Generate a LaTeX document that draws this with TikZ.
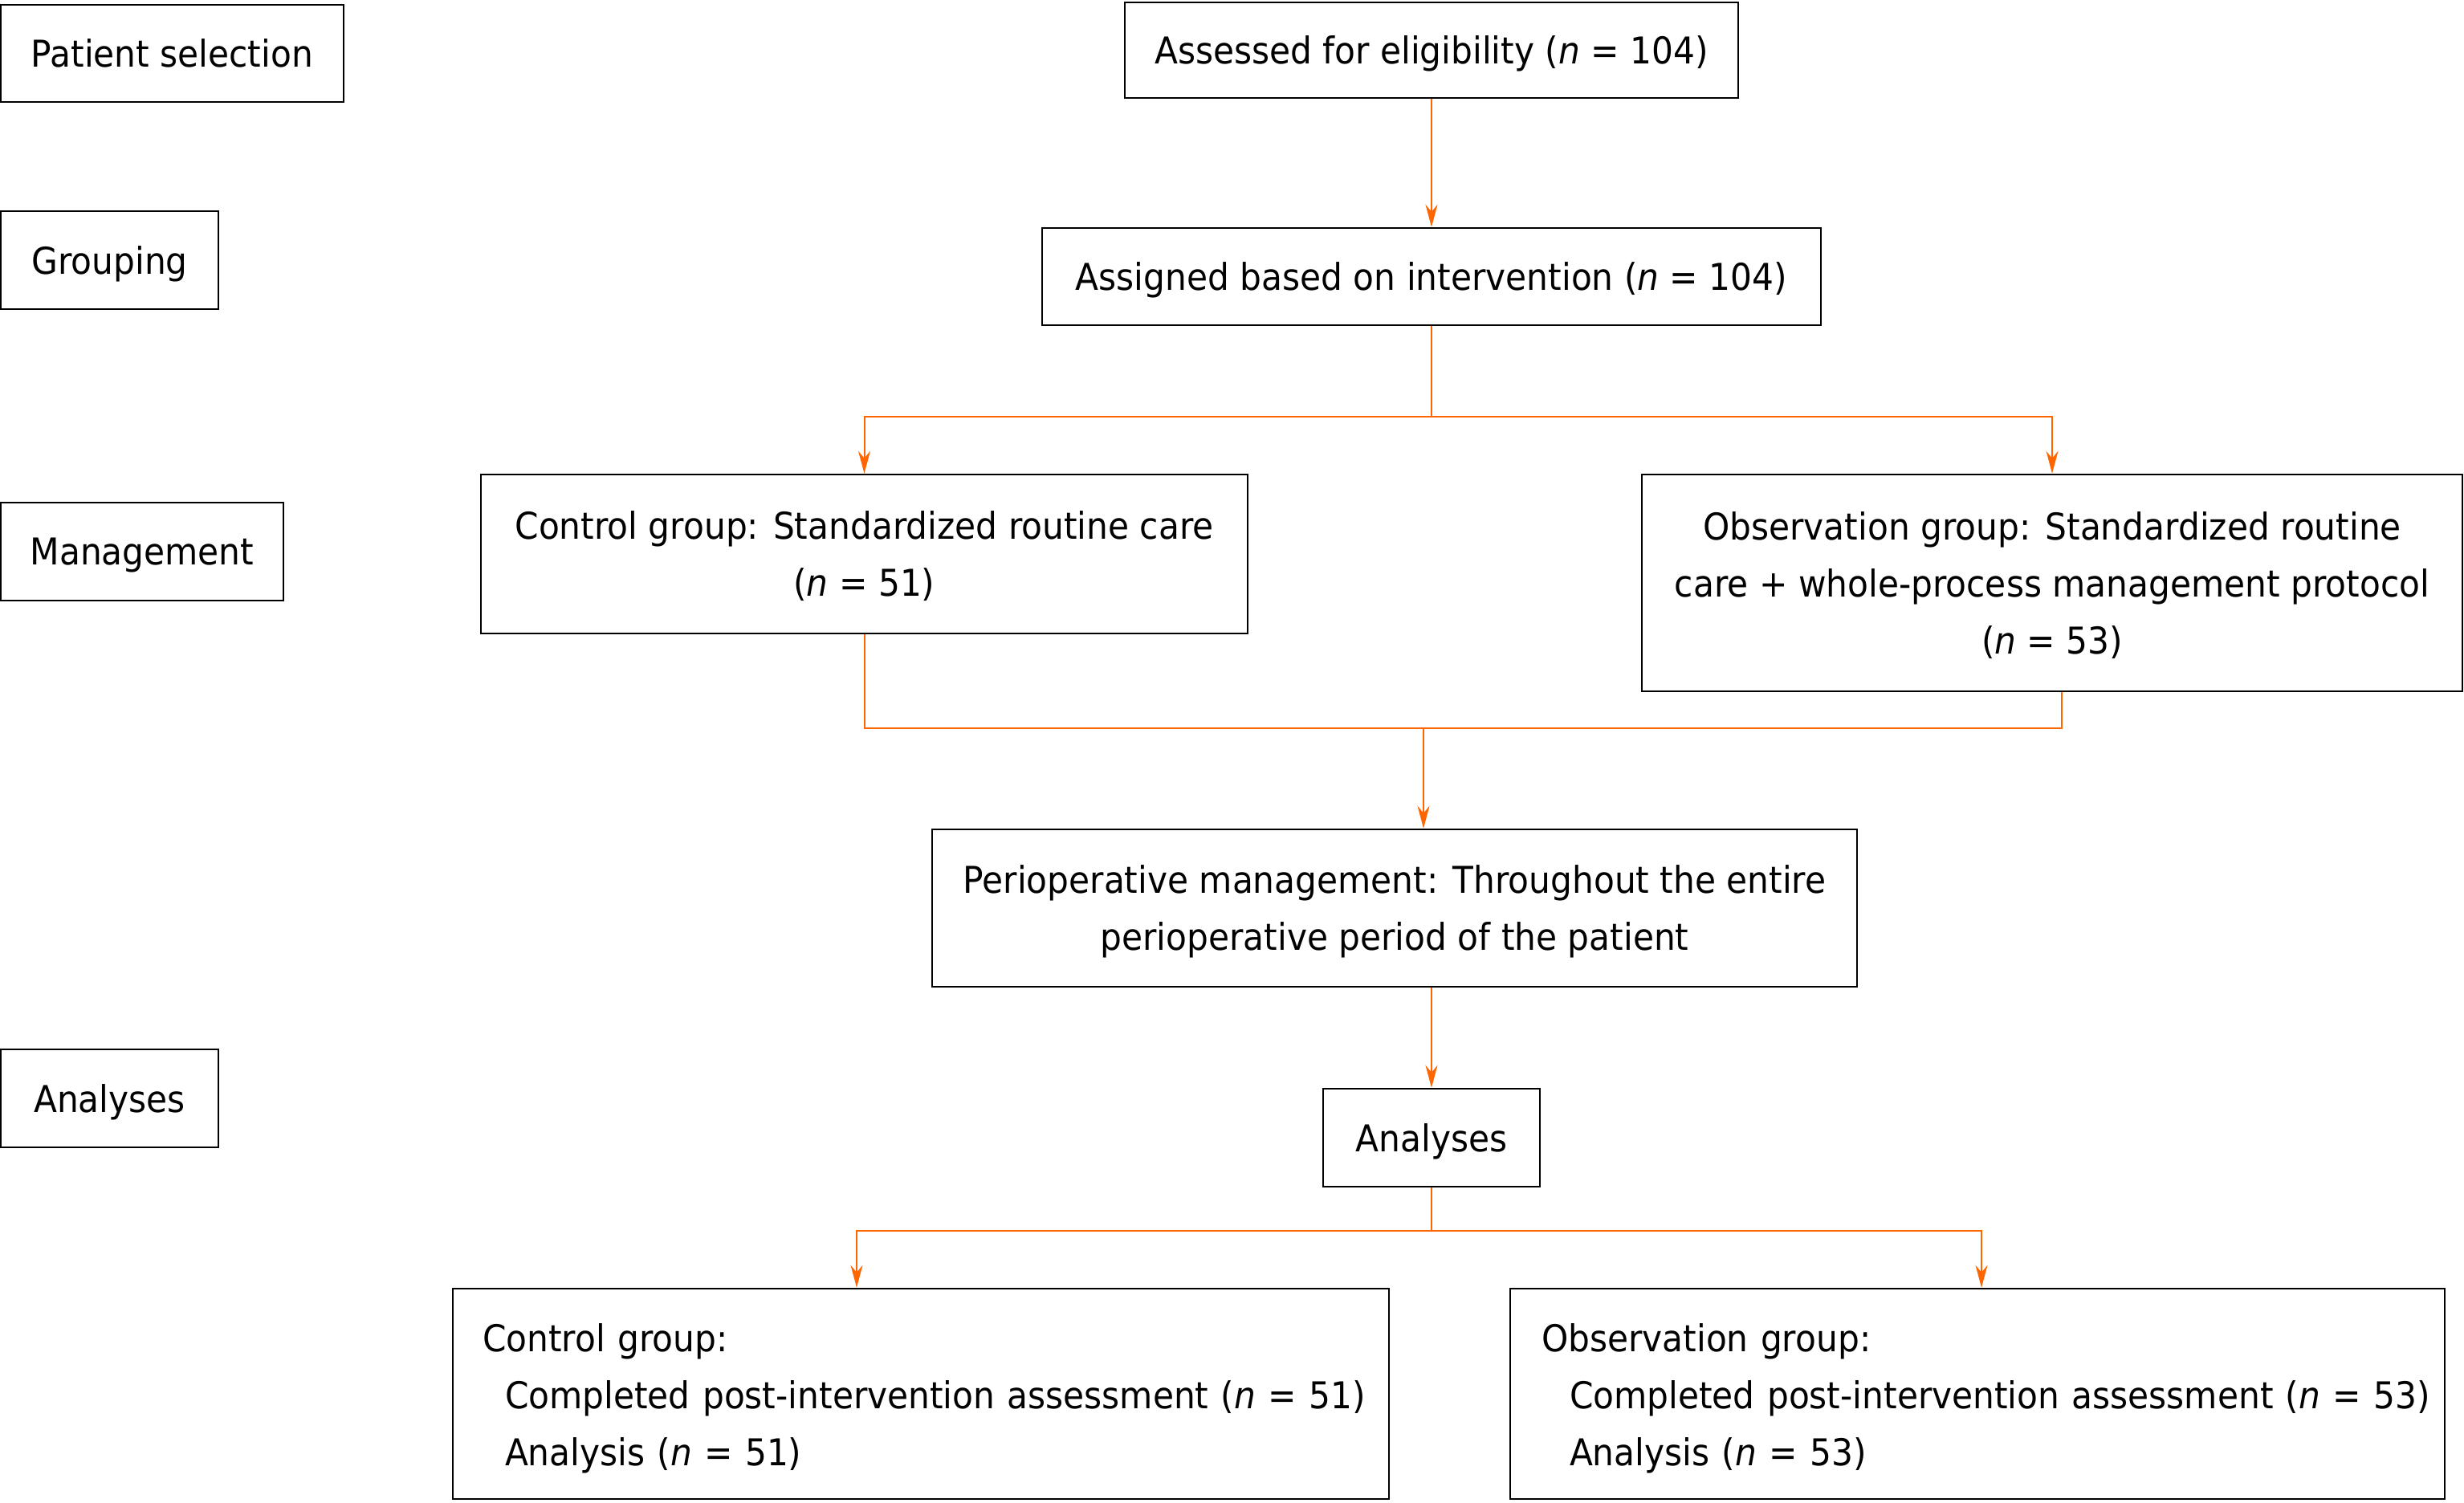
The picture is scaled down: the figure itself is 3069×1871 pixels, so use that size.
\documentclass[tikz,border=0pt]{standalone}
\usepackage{fontspec}
\setmainfont{DejaVu Sans}[FakeStretch=0.92]
\usetikzlibrary{arrows.meta,calc}
\definecolor{flowor}{RGB}{255,102,0}
\begin{document}
\begin{tikzpicture}[x=1pt,y=-1pt,
  every node/.style={font=\fontsize{46}{71}\selectfont},
  box/.style={draw=black,line width=2.5pt,rectangle,inner sep=0pt,align=center,text depth=0pt},
  lbox/.style={draw=black,line width=2.5pt,rectangle,inner xsep=8pt,inner ysep=0pt,align=left},
  wire/.style={draw=flowor,line width=2pt},
  conn/.style={wire,-{Stealth[length=28pt,width=15pt,inset=9pt]}}]
\useasboundingbox (0,0) rectangle (3069,1871);
% left stage labels
\node[box,minimum width=427pt,minimum height=121pt] (psel) at (214.5,66.5) {Patient selection};
\node[box,minimum width=271pt,minimum height=122pt] (grp) at (136.5,324) {Grouping};
\node[box,minimum width=352pt,minimum height=122pt] (mgmt) at (177,687) {Management};
\node[box,minimum width=271pt,minimum height=122pt] (anl) at (136.5,1368) {Analyses};
% main flow
\node[box,minimum width=764pt,minimum height=119pt] (assess) at (1783,62.5) {Assessed for eligibility (\textit{n} = 104)};
\node[box,minimum width=970pt,minimum height=121pt] (assign) at (1783,344.5) {Assigned based on intervention (\textit{n} = 104)};
\node[box,minimum width=955pt,minimum height=198pt] (ctrl) at (1076.5,690) {Control group: Standardized routine care\\(\textit{n} = 51)};
\node[box,minimum width=1022pt,minimum height=270pt] (obs) at (2556,726) {Observation group: Standardized routine\\care + whole-process management protocol\\(\textit{n} = 53)};
\node[box,minimum width=1152pt,minimum height=196pt] (peri) at (1737,1131) {Perioperative management: Throughout the entire\\perioperative period of the patient};
\node[box,minimum width=270pt,minimum height=122pt] (ana) at (1783,1417) {Analyses};
\node[lbox,text width=1150pt,minimum height=262pt] (ctrlb) at (1147,1736) {\rule{0pt}{47pt}\hspace*{29pt}Control group:\\\hspace*{57pt}Completed post-intervention assessment (\textit{n} = 51)\\\hspace*{57pt}Analysis (\textit{n} = 51)};
\node[lbox,text width=1148pt,minimum height=262pt] (obsb) at (2463,1736) {\rule{0pt}{47pt}\hspace*{31pt}Observation group:\\\hspace*{66pt}Completed post-intervention assessment (\textit{n} = 53)\\\hspace*{66pt}Analysis (\textit{n} = 53)};
% junctions
\coordinate (j1) at (1783,519);
\coordinate (j2) at (1773,907);
\coordinate (j3) at (1783,1533);
% connectors
\draw[conn] (assess) -- (assign);
\draw[wire] (assign.south) -- (j1);
\draw[conn] (j1) -| (ctrl.north);
\draw[conn] (j1) -| (obs.north);
\draw[wire] (ctrl.south) |- (j2);
\draw[wire] ([xshift=12pt]obs.south) |- (j2);
\draw[conn] (j2) -- (j2 |- peri.north);
\draw[conn] (ana.north |- peri.south) -- (ana.north);
\draw[wire] (ana.south) -- (j3);
\draw[conn] (j3) -| ([xshift=-80pt]ctrlb.north);
\draw[conn] (j3) -| ([xshift=5pt]obsb.north);
\end{tikzpicture}
\end{document}
